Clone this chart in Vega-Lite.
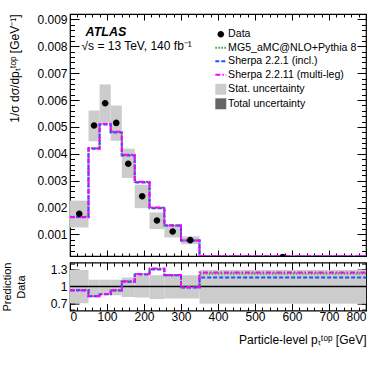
{
  "$schema": "https://vega.github.io/schema/vega-lite/v6.json",
  "autosize": {"type": "pad"},
  "padding": {"left": 0, "top": 12, "right": 5, "bottom": 2},
  "background": "white",
  "spacing": 2.6,
  "config": {
    "font": "Liberation Sans",
    "view": {"stroke": "black", "strokeWidth": 1.2},
    "axis": {"domain": false, "grid": false, "zindex": 1, "minExtent": 0, "labelFont": "Liberation Sans", "labelFontSize": 12, "labelColor": "black", "tickColor": "black", "tickWidth": 1, "titleFont": "Liberation Sans", "titleFontSize": 12, "titleFontWeight": "normal", "titleColor": "black"}
  },
  "datasets": {
    "unc": [
      {"lo": 0, "hi": 50, "ylo": 0.00126, "yhi": 0.00226, "rlo": 0.71, "rhi": 1.29, "series": "Stat. uncertainty"},
      {"lo": 50, "hi": 80, "ylo": 0.00447, "yhi": 0.00561, "rlo": 0.85, "rhi": 1.12, "series": "Stat. uncertainty"},
      {"lo": 80, "hi": 110, "ylo": 0.00518, "yhi": 0.00658, "rlo": 0.85, "rhi": 1.12, "series": "Stat. uncertainty"},
      {"lo": 110, "hi": 140, "ylo": 0.00449, "yhi": 0.0058, "rlo": 0.85, "rhi": 1.12, "series": "Stat. uncertainty"},
      {"lo": 140, "hi": 175, "ylo": 0.0031, "yhi": 0.00419, "rlo": 0.82, "rhi": 1.16, "series": "Stat. uncertainty"},
      {"lo": 175, "hi": 215, "ylo": 0.00198, "yhi": 0.00285, "rlo": 0.81, "rhi": 1.2, "series": "Stat. uncertainty"},
      {"lo": 215, "hi": 255, "ylo": 0.0012, "yhi": 0.00182, "rlo": 0.785, "rhi": 1.2, "series": "Stat. uncertainty"},
      {"lo": 255, "hi": 300, "ylo": 0.00089, "yhi": 0.00134, "rlo": 0.79, "rhi": 1.2, "series": "Stat. uncertainty"},
      {"lo": 300, "hi": 350, "ylo": 0.00064, "yhi": 0.00093, "rlo": 0.79, "rhi": 1.2, "series": "Stat. uncertainty"},
      {"lo": 350, "hi": 800, "ylo": 0.00011, "yhi": 0.00021, "rlo": 0.7, "rhi": 1.29, "series": "Stat. uncertainty"}
    ],
    "pts": [
      {"x": 25, "y": 0.00177, "series": "Data"},
      {"x": 65, "y": 0.00505, "series": "Data"},
      {"x": 95, "y": 0.00588, "series": "Data"},
      {"x": 125, "y": 0.00515, "series": "Data"},
      {"x": 157.5, "y": 0.00363, "series": "Data"},
      {"x": 195, "y": 0.00242, "series": "Data"},
      {"x": 235, "y": 0.00152, "series": "Data"},
      {"x": 277.5, "y": 0.00111, "series": "Data"},
      {"x": 325, "y": 0.00079, "series": "Data"},
      {"x": 575, "y": 0.00016, "series": "Data"}
    ],
    "pred": [
      {"x": 0, "y": 0.00166, "series": "MG5_aMC@NLO+Pythia 8"},
      {"x": 50, "y": 0.00422, "series": "MG5_aMC@NLO+Pythia 8"},
      {"x": 80, "y": 0.00512, "series": "MG5_aMC@NLO+Pythia 8"},
      {"x": 110, "y": 0.00482, "series": "MG5_aMC@NLO+Pythia 8"},
      {"x": 140, "y": 0.00396, "series": "MG5_aMC@NLO+Pythia 8"},
      {"x": 175, "y": 0.00295, "series": "MG5_aMC@NLO+Pythia 8"},
      {"x": 215, "y": 0.00199, "series": "MG5_aMC@NLO+Pythia 8"},
      {"x": 255, "y": 0.00133, "series": "MG5_aMC@NLO+Pythia 8"},
      {"x": 300, "y": 0.00078, "series": "MG5_aMC@NLO+Pythia 8"},
      {"x": 350, "y": 0.000197, "series": "MG5_aMC@NLO+Pythia 8"},
      {"x": 800, "y": 0.000197, "series": "MG5_aMC@NLO+Pythia 8"},
      {"x": 0, "y": 0.00165, "series": "Sherpa 2.2.1 (incl.)"},
      {"x": 50, "y": 0.00419, "series": "Sherpa 2.2.1 (incl.)"},
      {"x": 80, "y": 0.00509, "series": "Sherpa 2.2.1 (incl.)"},
      {"x": 110, "y": 0.00479, "series": "Sherpa 2.2.1 (incl.)"},
      {"x": 140, "y": 0.00394, "series": "Sherpa 2.2.1 (incl.)"},
      {"x": 175, "y": 0.00293, "series": "Sherpa 2.2.1 (incl.)"},
      {"x": 215, "y": 0.00198, "series": "Sherpa 2.2.1 (incl.)"},
      {"x": 255, "y": 0.00133, "series": "Sherpa 2.2.1 (incl.)"},
      {"x": 300, "y": 0.00078, "series": "Sherpa 2.2.1 (incl.)"},
      {"x": 350, "y": 0.000186, "series": "Sherpa 2.2.1 (incl.)"},
      {"x": 800, "y": 0.000186, "series": "Sherpa 2.2.1 (incl.)"},
      {"x": 0, "y": 0.00164, "series": "Sherpa 2.2.11 (multi-leg)"},
      {"x": 50, "y": 0.0042, "series": "Sherpa 2.2.11 (multi-leg)"},
      {"x": 80, "y": 0.00512, "series": "Sherpa 2.2.11 (multi-leg)"},
      {"x": 110, "y": 0.00482, "series": "Sherpa 2.2.11 (multi-leg)"},
      {"x": 140, "y": 0.00397, "series": "Sherpa 2.2.11 (multi-leg)"},
      {"x": 175, "y": 0.00296, "series": "Sherpa 2.2.11 (multi-leg)"},
      {"x": 215, "y": 0.002, "series": "Sherpa 2.2.11 (multi-leg)"},
      {"x": 255, "y": 0.00134, "series": "Sherpa 2.2.11 (multi-leg)"},
      {"x": 300, "y": 0.00078, "series": "Sherpa 2.2.11 (multi-leg)"},
      {"x": 350, "y": 0.000199, "series": "Sherpa 2.2.11 (multi-leg)"},
      {"x": 800, "y": 0.000199, "series": "Sherpa 2.2.11 (multi-leg)"}
    ],
    "ratioA": [
      {"x": 0, "r": 0.94, "series": "MG5_aMC@NLO+Pythia 8"},
      {"x": 50, "r": 0.835, "series": "MG5_aMC@NLO+Pythia 8"},
      {"x": 80, "r": 0.87, "series": "MG5_aMC@NLO+Pythia 8"},
      {"x": 110, "r": 0.935, "series": "MG5_aMC@NLO+Pythia 8"},
      {"x": 140, "r": 1.09, "series": "MG5_aMC@NLO+Pythia 8"},
      {"x": 175, "r": 1.22, "series": "MG5_aMC@NLO+Pythia 8"},
      {"x": 215, "r": 1.31, "series": "MG5_aMC@NLO+Pythia 8"},
      {"x": 255, "r": 1.2, "series": "MG5_aMC@NLO+Pythia 8"},
      {"x": 300, "r": 0.99, "series": "MG5_aMC@NLO+Pythia 8"},
      {"x": 350, "r": 1.23, "series": "MG5_aMC@NLO+Pythia 8"},
      {"x": 800, "r": 1.23, "series": "MG5_aMC@NLO+Pythia 8"},
      {"x": 0, "r": 0.935, "series": "Sherpa 2.2.1 (incl.)"},
      {"x": 50, "r": 0.83, "series": "Sherpa 2.2.1 (incl.)"},
      {"x": 80, "r": 0.865, "series": "Sherpa 2.2.1 (incl.)"},
      {"x": 110, "r": 0.93, "series": "Sherpa 2.2.1 (incl.)"},
      {"x": 140, "r": 1.085, "series": "Sherpa 2.2.1 (incl.)"},
      {"x": 175, "r": 1.21, "series": "Sherpa 2.2.1 (incl.)"},
      {"x": 215, "r": 1.3, "series": "Sherpa 2.2.1 (incl.)"},
      {"x": 255, "r": 1.2, "series": "Sherpa 2.2.1 (incl.)"},
      {"x": 300, "r": 0.985, "series": "Sherpa 2.2.1 (incl.)"},
      {"x": 350, "r": 1.16, "series": "Sherpa 2.2.1 (incl.)"},
      {"x": 800, "r": 1.16, "series": "Sherpa 2.2.1 (incl.)"}
    ],
    "ratioB": [
      {"x": 0, "r": 0.93, "series": "Sherpa 2.2.11 (multi-leg)"},
      {"x": 50, "r": 0.83, "series": "Sherpa 2.2.11 (multi-leg)"},
      {"x": 80, "r": 0.87, "series": "Sherpa 2.2.11 (multi-leg)"},
      {"x": 110, "r": 0.935, "series": "Sherpa 2.2.11 (multi-leg)"},
      {"x": 140, "r": 1.095, "series": "Sherpa 2.2.11 (multi-leg)"},
      {"x": 175, "r": 1.22, "series": "Sherpa 2.2.11 (multi-leg)"},
      {"x": 215, "r": 1.315, "series": "Sherpa 2.2.11 (multi-leg)"},
      {"x": 255, "r": 1.205, "series": "Sherpa 2.2.11 (multi-leg)"},
      {"x": 300, "r": 0.99, "series": "Sherpa 2.2.11 (multi-leg)"},
      {"x": 350, "r": 1.245, "series": "Sherpa 2.2.11 (multi-leg)"},
      {"x": 800, "r": 1.245, "series": "Sherpa 2.2.11 (multi-leg)"}
    ]
  },
  "resolve": {"legend": {"color": "independent", "shape": "independent", "strokeDash": "independent"}},
  "vconcat": [
    {
      "width": 296,
      "height": 242,
      "resolve": {"axis": {"x": "independent", "y": "independent"}},
      "layer": [
        {
          "data": {"name": "unc"},
          "mark": {"type": "rect", "clip": true},
          "encoding": {
            "x": {"field": "lo", "type": "quantitative", "scale": {"domain": [0, 800], "nice": false, "zero": false},
                  "axis": {"orient": "bottom", "values": [0, 100, 200, 300, 400, 500, 600, 700, 800], "labels": false, "tickSize": -6, "title": null}},
            "x2": {"field": "hi"},
            "y": {"field": "ylo", "type": "quantitative", "scale": {"domain": [0.0002, 0.0092], "nice": false, "zero": false},
                  "axis": {"orient": "left", "values": [0.001, 0.002, 0.003, 0.004, 0.005, 0.006, 0.007, 0.008, 0.009], "format": ".3f", "tickSize": -9, "labelPadding": 12, "title": "1/σ dσ/dpₜᵗᵒᵖ [GeV⁻¹]", "titleAnchor": "end", "titlePadding": 15}},
            "y2": {"field": "yhi"},
            "color": {"field": "series", "type": "nominal",
                      "scale": {"domain": ["Data", "MG5_aMC@NLO+Pythia 8", "Sherpa 2.2.1 (incl.)", "Sherpa 2.2.11 (multi-leg)", "Stat. uncertainty", "Total uncertainty"],
                                "range": ["#000000", "#2ea02e", "#1f4fff", "#ff00ff", "#cccccc", "#666666"]},
                      "legend": {"title": null, "orient": "none", "legendX": 145.5, "legendY": 15, "padding": 0, "labelFont": "Liberation Sans", "labelFontSize": 10.6, "labelColor": "black", "symbolSize": 120, "rowPadding": 2.5, "labelOffset": 2,
                                 "encode": {"symbols": {"update": {"fill": {"scale": "color", "field": "value"}, "stroke": {"scale": "color", "field": "value"}, "strokeDash": {"scale": "strokeDash", "field": "value"}, "shape": {"scale": "shape", "field": "value"}, "opacity": {"value": 1}, "fillOpacity": {"value": 1}, "strokeWidth": {"signal": "indexof(['Data','Stat. uncertainty','Total uncertainty'], datum.value) >= 0 ? 0 : 2"}}}}}}
          }
        },
        {
          "data": {"name": "pred"},
          "mark": {"type": "line", "interpolate": "step-after", "strokeWidth": 2, "clip": true},
          "encoding": {
            "x": {"field": "x", "type": "quantitative", "axis": {"orient": "bottom", "values": [0, 20, 40, 60, 80, 100, 120, 140, 160, 180, 200, 220, 240, 260, 280, 300, 320, 340, 360, 380, 400, 420, 440, 460, 480, 500, 520, 540, 560, 580, 600, 620, 640, 660, 680, 700, 720, 740, 760, 780, 800], "labels": false, "tickSize": -3, "title": null}},
            "y": {"field": "y", "type": "quantitative", "axis": {"orient": "left", "values": [0.0002, 0.0004, 0.0006, 0.0008, 0.001, 0.0012, 0.0014, 0.0016, 0.0018, 0.002, 0.0022, 0.0024, 0.0026, 0.0028, 0.003, 0.0032, 0.0034, 0.0036, 0.0038, 0.004, 0.0042, 0.0044, 0.0046, 0.0048, 0.005, 0.0052, 0.0054, 0.0056, 0.0058, 0.006, 0.0062, 0.0064, 0.0066, 0.0068, 0.007, 0.0072, 0.0074, 0.0076, 0.0078, 0.008, 0.0082, 0.0084, 0.0086, 0.0088, 0.009, 0.0092], "labels": false, "tickSize": -4.5, "title": null}},
            "color": {"field": "series", "type": "nominal"},
            "strokeDash": {"field": "series", "type": "nominal",
                           "scale": {"domain": ["Data", "MG5_aMC@NLO+Pythia 8", "Sherpa 2.2.1 (incl.)", "Sherpa 2.2.11 (multi-leg)", "Stat. uncertainty", "Total uncertainty"],
                                     "range": [[1, 0], [1.5, 1.5], [4, 2], [5, 2, 1.5, 2], [1, 0], [1, 0]]}}
          }
        },
        {
          "data": {"name": "pts"},
          "mark": {"type": "point", "filled": true, "size": 120, "opacity": 1, "clip": true},
          "encoding": {
            "x": {"field": "x", "type": "quantitative", "axis": {"orient": "top", "values": [0, 100, 200, 300, 400, 500, 600, 700, 800], "labels": false, "tickSize": -6, "title": null}},
            "y": {"field": "y", "type": "quantitative", "axis": {"orient": "right", "values": [0.001, 0.002, 0.003, 0.004, 0.005, 0.006, 0.007, 0.008, 0.009], "labels": false, "tickSize": -9, "title": null}},
            "color": {"field": "series", "type": "nominal"},
            "shape": {"field": "series", "type": "nominal",
                      "scale": {"domain": ["Data", "MG5_aMC@NLO+Pythia 8", "Sherpa 2.2.1 (incl.)", "Sherpa 2.2.11 (multi-leg)", "Stat. uncertainty", "Total uncertainty"],
                                "range": ["M-0.6,0A0.6,0.6,0,1,0,0.6,0A0.6,0.6,0,1,0,-0.6,0Z", "stroke", "stroke", "stroke", "square", "square"]}}
          }
        },
        {
          "data": {"values": [{"label": "ATLAS"}]},
          "mark": {"type": "text", "align": "left", "baseline": "alphabetic", "font": "Liberation Sans", "fontStyle": "italic", "fontWeight": "bold", "fontSize": 12.5, "color": "black"},
          "encoding": {
            "text": {"field": "label"},
            "x": {"datum": 42, "type": "quantitative", "axis": {"orient": "top", "values": [0, 20, 40, 60, 80, 100, 120, 140, 160, 180, 200, 220, 240, 260, 280, 300, 320, 340, 360, 380, 400, 420, 440, 460, 480, 500, 520, 540, 560, 580, 600, 620, 640, 660, 680, 700, 720, 740, 760, 780, 800], "labels": false, "tickSize": -3, "title": null}},
            "y": {"datum": 0.0084, "type": "quantitative", "axis": {"orient": "right", "values": [0.0002, 0.0004, 0.0006, 0.0008, 0.001, 0.0012, 0.0014, 0.0016, 0.0018, 0.002, 0.0022, 0.0024, 0.0026, 0.0028, 0.003, 0.0032, 0.0034, 0.0036, 0.0038, 0.004, 0.0042, 0.0044, 0.0046, 0.0048, 0.005, 0.0052, 0.0054, 0.0056, 0.0058, 0.006, 0.0062, 0.0064, 0.0066, 0.0068, 0.007, 0.0072, 0.0074, 0.0076, 0.0078, 0.008, 0.0082, 0.0084, 0.0086, 0.0088, 0.009, 0.0092], "labels": false, "tickSize": -4.5, "title": null}}
          }
        },
        {
          "data": {"values": [{"label": "√s = 13 TeV, 140 fb⁻¹"}]},
          "mark": {"type": "text", "align": "left", "baseline": "alphabetic", "font": "Liberation Sans", "fontSize": 12, "color": "black"},
          "encoding": {
            "text": {"field": "label"},
            "x": {"datum": 31, "type": "quantitative", "axis": null},
            "y": {"datum": 0.00786, "type": "quantitative", "axis": null}
          }
        }
      ]
    },
    {
      "width": 296,
      "height": 48,
      "resolve": {"axis": {"x": "independent", "y": "independent"}},
      "layer": [
        {
          "data": {"name": "unc"},
          "mark": {"type": "rect", "clip": true},
          "encoding": {
            "x": {"field": "lo", "type": "quantitative", "scale": {"domain": [0, 800], "nice": false, "zero": false},
                  "axis": {"orient": "bottom", "values": [0, 100, 200, 300, 400, 500, 600, 700, 800], "tickSize": -7, "labelPadding": 8, "title": "Particle-level pₜᵗᵒᵖ [GeV]", "titleAnchor": "end", "titlePadding": 12}},
            "x2": {"field": "hi"},
            "y": {"field": "rlo", "type": "quantitative", "scale": {"domain": [0.58, 1.42], "nice": false, "zero": false},
                  "axis": {"orient": "left", "values": [0.7, 1, 1.3], "format": "~g", "tickSize": -9, "labelPadding": 12, "title": ["Prediction", "Data"], "titleFontSize": 11, "titleLineHeight": 14, "titlePadding": 24}},
            "y2": {"field": "rhi"},
            "color": {"field": "series", "type": "nominal", "legend": null}
          }
        },
        {
          "data": {"values": [{"ratio": 1}]},
          "mark": {"type": "rule", "color": "black", "strokeWidth": 1.5},
          "encoding": {
            "x": {"datum": 0, "type": "quantitative", "axis": {"orient": "top", "values": [0, 20, 40, 60, 80, 100, 120, 140, 160, 180, 200, 220, 240, 260, 280, 300, 320, 340, 360, 380, 400, 420, 440, 460, 480, 500, 520, 540, 560, 580, 600, 620, 640, 660, 680, 700, 720, 740, 760, 780, 800], "labels": false, "tickSize": -3.5, "title": null}},
            "x2": {"datum": 800},
            "y": {"field": "ratio", "type": "quantitative", "axis": {"orient": "right", "values": [0.6, 0.7, 0.8, 0.9, 1, 1.1, 1.2, 1.3, 1.4], "labels": false, "tickSize": -4.5, "title": null}}
          }
        },
        {
          "data": {"name": "ratioA"},
          "mark": {"type": "line", "interpolate": "step-after", "strokeWidth": 2, "clip": true},
          "encoding": {
            "x": {"field": "x", "type": "quantitative", "axis": {"orient": "bottom", "values": [0, 20, 40, 60, 80, 100, 120, 140, 160, 180, 200, 220, 240, 260, 280, 300, 320, 340, 360, 380, 400, 420, 440, 460, 480, 500, 520, 540, 560, 580, 600, 620, 640, 660, 680, 700, 720, 740, 760, 780, 800], "labels": false, "tickSize": -3.5, "title": null}},
            "y": {"field": "r", "type": "quantitative", "axis": {"orient": "left", "values": [0.6, 0.7, 0.8, 0.9, 1, 1.1, 1.2, 1.3, 1.4], "labels": false, "tickSize": -4.5, "title": null}},
            "color": {"field": "series", "type": "nominal", "legend": null},
            "strokeDash": {"field": "series", "type": "nominal", "legend": null}
          }
        },
        {
          "data": {"name": "ratioB"},
          "mark": {"type": "line", "interpolate": "step-after", "strokeWidth": 2, "clip": true},
          "encoding": {
            "x": {"field": "x", "type": "quantitative", "axis": {"orient": "top", "values": [0, 100, 200, 300, 400, 500, 600, 700, 800], "labels": false, "tickSize": -7, "title": null}},
            "y": {"field": "r", "type": "quantitative", "axis": {"orient": "right", "values": [0.7, 1, 1.3], "labels": false, "tickSize": -9, "title": null}},
            "color": {"field": "series", "type": "nominal", "legend": null},
            "strokeDash": {"field": "series", "type": "nominal", "legend": null}
          }
        }
      ]
    }
  ]
}
